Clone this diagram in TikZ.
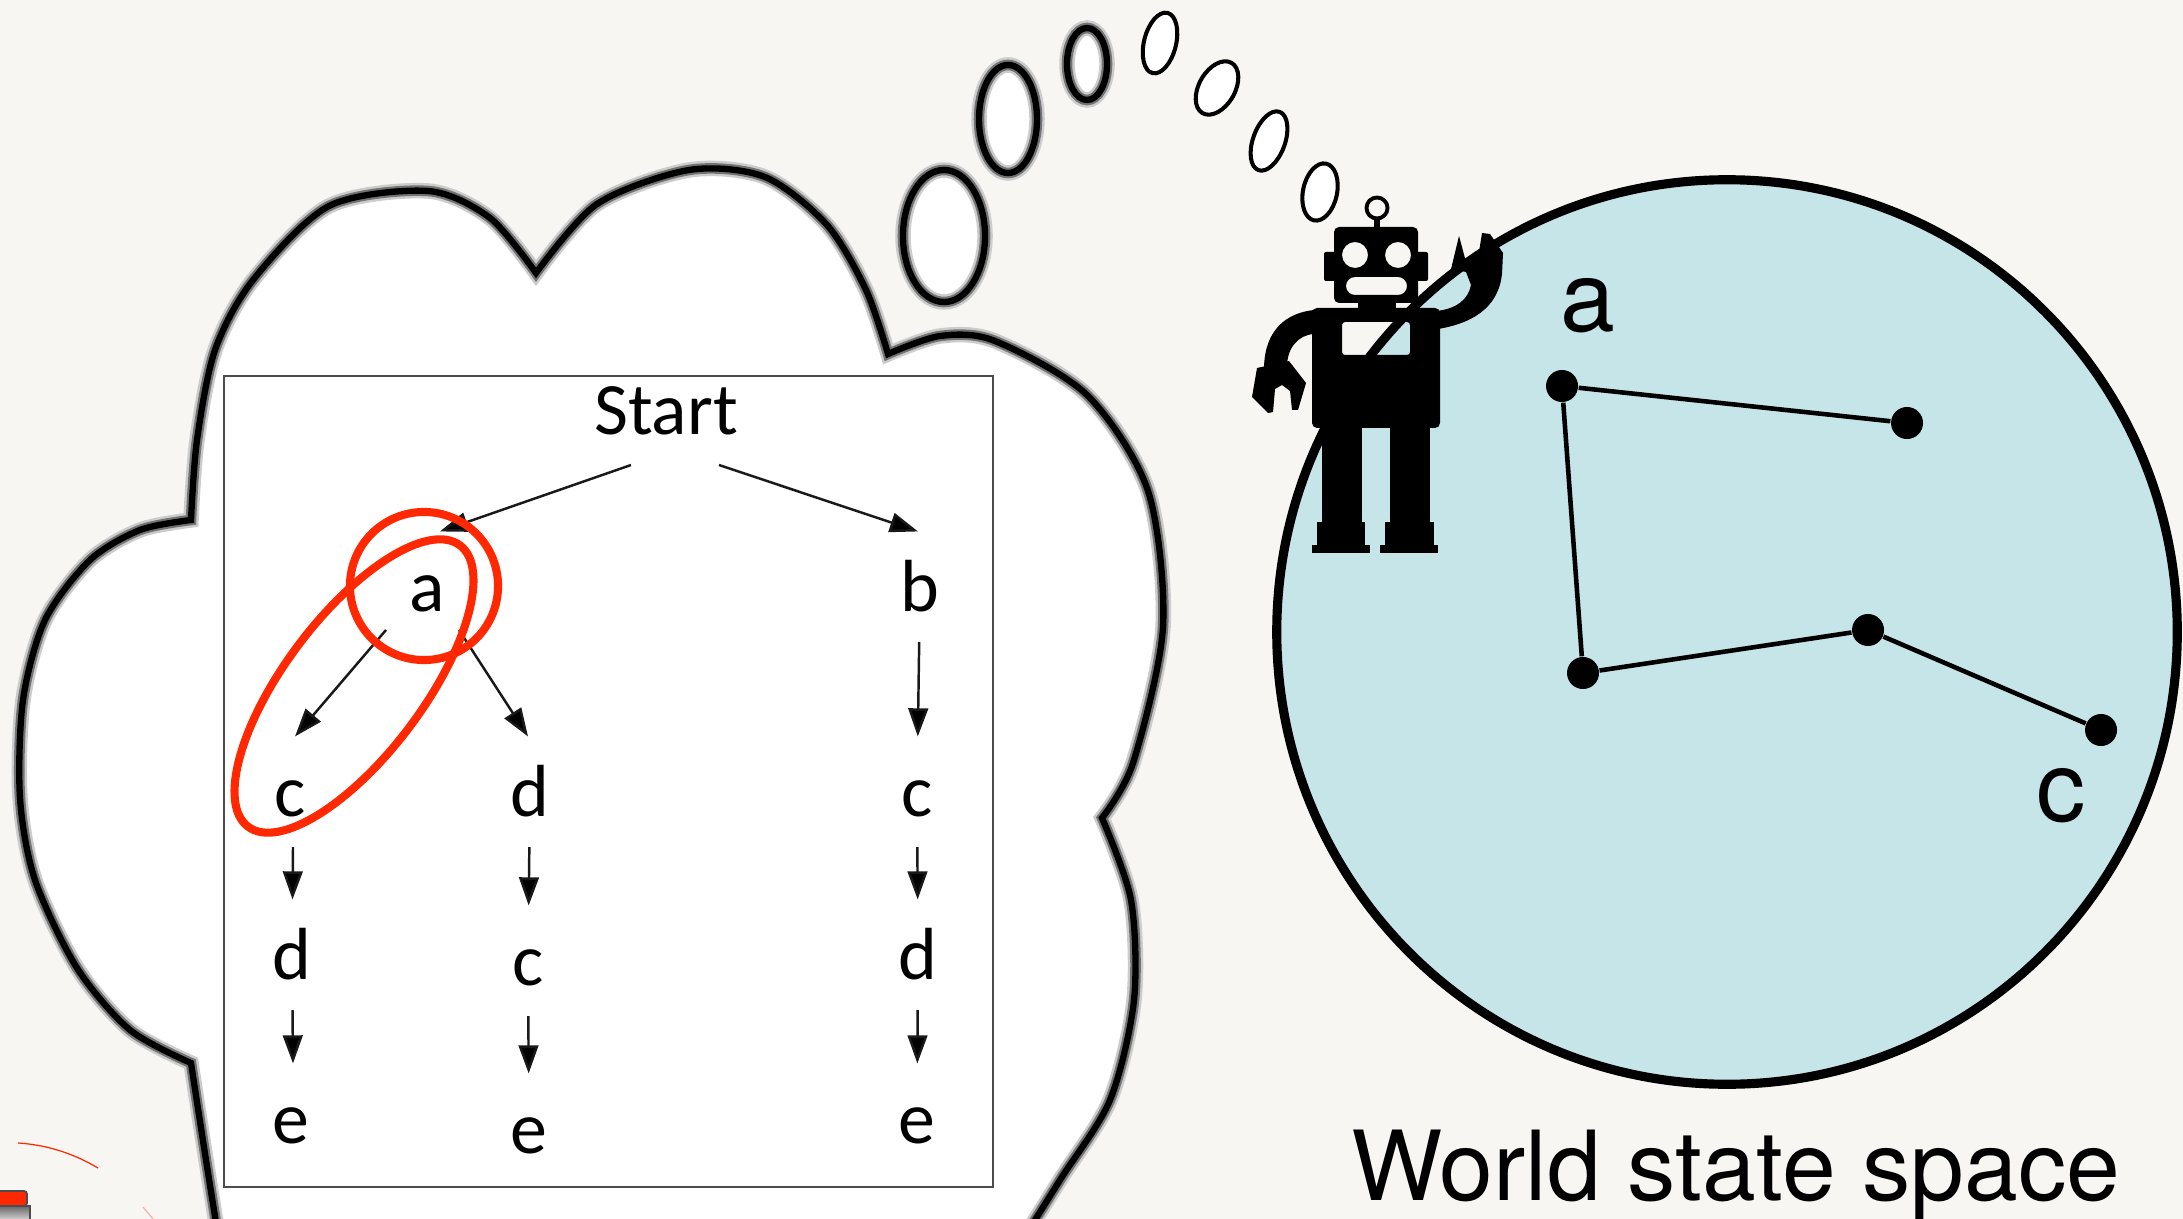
\documentclass[tikz,border=0pt]{standalone}
\usepackage{fontspec}
\setmainfont{TeX Gyre Heros}
\newfontfamily\treefont{Carlito}
\usetikzlibrary{arrows.meta,calc}

\definecolor{paper}{RGB}{248,246,243}
\definecolor{sky}{RGB}{197,229,233}
\definecolor{marker}{RGB}{255,40,0}

\begin{document}
\begin{tikzpicture}[x=0.01cm,y=-0.01cm,
  softline/.style={preaction={fill=white},
                   preaction={draw=black!20,line width=4.4pt},
                   preaction={draw=black!55,line width=3.0pt},
                   draw=black,line width=1.8pt},
  crispbubble/.style={fill=white,draw=black,line width=1.15pt},
  treelbl/.style={font=\treefont\fontsize{21}{25}\selectfont,inner sep=0pt,
                  outer sep=0.31cm,text height=13.8pt,text depth=0pt,anchor=base},
  treearrow/.style={draw=black!90,line width=0.7pt,
                    -{Triangle[length=8pt,width=5.6pt,fill=black]}},
  redmark/.style={draw=marker,line width=2.3pt},
  wdot/.style={circle,fill=black,inner sep=0pt,minimum size=0.32cm},
  wedge/.style={draw=black,line width=1.3pt},
  wlabel/.style={font=\fontsize{28}{32}\selectfont,anchor=base,inner sep=0pt},
]
\useasboundingbox (0,0) rectangle (2183,1219);
\clip (0,0) rectangle (2183,1219);
\fill[paper] (0,0) rectangle (2183,1219);

% ---------- thought cloud ----------
\path[softline]
  plot[smooth] coordinates {(222,1260) (206,1160) (191,1063)}
  -- plot[smooth] coordinates {(191,1063) (130,1030) (77,968) (35,880) (20,798)
        (23,700) (45,620) (90,560) (140,530) (191,520)}
  -- plot[smooth] coordinates {(191,520) (197,440) (215,350) (253,280) (329,206)
        (428,191) (490,218) (536,273)}
  -- plot[smooth] coordinates {(536,273) (597,204) (689,170) (765,177) (827,225)
        (866,290) (888,354)}
  -- plot[smooth] coordinates {(888,354) (940,336) (995,341) (1087,395) (1148,491)
        (1163,627) (1133,763) (1102,818)}
  -- plot[smooth] coordinates {(1102,818) (1131,900) (1134,1000) (1110,1100)
        (1060,1180) (1010,1260)}
  -- cycle;

% bubbles rising from the robot
\path[softline] (944,236) ellipse[x radius=0.41cm,y radius=0.66cm];
\path[softline] (1008,119) ellipse[x radius=0.29cm,y radius=0.54cm];
\path[softline] (1087,64) ellipse[x radius=0.20cm,y radius=0.36cm];
\path[crispbubble,rotate around={-14:(1160,43)}] (1160,43)
  ellipse[x radius=0.16cm,y radius=0.31cm];
\path[crispbubble,rotate around={-30:(1217,88)}] (1217,88)
  ellipse[x radius=0.18cm,y radius=0.29cm];
\path[crispbubble,rotate around={-20:(1269,141)}] (1269,141)
  ellipse[x radius=0.16cm,y radius=0.31cm];
\path[crispbubble,rotate around={-12:(1320,192)}] (1320,192)
  ellipse[x radius=0.17cm,y radius=0.29cm];

% ---------- search tree panel ----------
\draw[fill=white,draw=black!70,line width=0.7pt] (224,376) rectangle (993,1187);

\node[treelbl,text height=12.5pt] (start) at (666,435) {Start};
\node[treelbl] (a)  at (427,611) {a};
\node[treelbl] (b)  at (920,611) {b};
\node[treelbl] (c1) at (290,816) {c};
\node[treelbl] (d2) at (530,816) {d};
\node[treelbl] (c3) at (917,816) {c};
\node[treelbl] (d1) at (292,979) {d};
\node[treelbl] (c2) at (528,985) {c};
\node[treelbl] (d3) at (918,979) {d};
\node[treelbl] (e1) at (291,1143) {e};
\node[treelbl] (e2) at (529,1153) {e};
\node[treelbl] (e3) at (917,1143) {e};

\draw[treearrow] ([xshift=-0.35cm,yshift=0.01cm]start.south) -- ([xshift=0.13cm]a.north);
\draw[treearrow] ([xshift=0.53cm,yshift=0.01cm]start.south) -- ([xshift=-0.02cm]b.north);
\draw[treearrow] ([xshift=-0.41cm,yshift=0.12cm]a.south) -- ([xshift=0.05cm]c1.north);
\draw[treearrow] ([xshift=0.32cm,yshift=0.12cm]a.south) -- ([xshift=-0.02cm]d2.north);
\draw[treearrow] (b) -- (c3);
\draw[treearrow] ([xshift=0.03cm]c1.south) -- (d1);
\draw[treearrow] (d2) -- (c2);
\draw[treearrow] (c3) -- (d3);
\draw[treearrow] (d1) -- ([xshift=0.02cm]e1.north);
\draw[treearrow] (c2) -- (e2);
\draw[treearrow] (d3) -- (e3);

% highlighting marks
\draw[redmark] (424,586) circle[radius=0.74cm];
\draw[redmark,rotate around={53:(354,686)}] (354,686)
  ellipse[x radius=1.76cm,y radius=0.69cm];

% ---------- world state space ----------
\draw[fill=sky,draw=black,line width=2.6pt] (1727,632)
  ellipse[x radius=4.50cm,y radius=4.52cm];

\node[wdot] (w1) at (1562,386) {};
\node[wdot] (w2) at (1907,423) {};
\node[wdot] (w3) at (1583,673) {};
\node[wdot] (w4) at (1868,630) {};
\node[wdot] (w5) at (2101,730) {};
\draw[wedge] (w1) -- (w2);
\draw[wedge] (w1) -- (w3);
\draw[wedge] (w3) -- (w4);
\draw[wedge] (w4) -- (w5);

\node[wlabel] (la) at (1588,332) {a};
\node[wlabel] (lc) at (2061,821) {c};
\node[wlabel,font=\fontsize{27.5}{32}\selectfont] (caption) at (1736,1200)
  {World state space};

% ---------- robot ----------
\begin{scope}[black]
  % antenna
  \draw[line width=1.1pt] (1377,208) circle[radius=0.105cm];
  \fill (1374,217) rectangle (1380,229);
  % head with eyes and mouth cut out
  \fill[even odd rule]
    [rounded corners=0.05cm] (1334,227) rectangle (1418,303)
    (1355,255) circle[radius=0.13cm]
    (1398,255) circle[radius=0.13cm]
    [rounded corners=0.09cm] (1346,277) rectangle (1407,295);
  \fill[rounded corners=0.02cm] (1324,252) rectangle (1336,281);
  \fill[rounded corners=0.02cm] (1416,252) rectangle (1428,281);
  % neck
  \fill (1358,300) rectangle (1396,311);
  % body with chest window
  \fill[even odd rule]
    [rounded corners=0.05cm] (1312,308) rectangle (1440,428)
    [rounded corners=0.03cm] (1342,322) rectangle (1410,355);
  % left arm and claw
  \fill (1314,310) .. controls (1286,313) and (1265,330) .. (1264,367)
    -- (1287,367) .. controls (1287,348) and (1298,335) .. (1314,334) -- cycle;
  \fill (1257,368) -- (1289,361) -- (1306,383) -- (1298,410) -- (1292,410)
    -- (1290,391) -- (1282,385) -- (1275,389) -- (1273,412) -- (1268,413)
    -- (1252,397) -- cycle;
  % right arm and hand gripping the boundary
  \fill (1436,311) .. controls (1456,309) and (1468,300) .. (1471,285)
    -- (1466,272) -- (1451,269) -- (1459,236) -- (1466,262) -- (1478,258)
    -- (1482,233) -- (1490,234) -- (1503,253) -- (1502,274)
    .. controls (1499,302) and (1480,322) .. (1438,329) -- cycle;
  % legs and feet
  \fill (1322,420) rectangle (1362,524);
  \fill (1390,420) rectangle (1430,524);
  \fill (1317,522) rectangle (1365,546);
  \fill (1312,545) rectangle (1370,553);
  \fill (1385,522) rectangle (1434,546);
  \fill (1380,545) rectangle (1438,553);
\end{scope}

% ---------- pointer remnants, lower left ----------
\draw[marker,line width=0.35pt] (18,1143) .. controls (50,1145) and (76,1155) .. (98,1168);
\draw[marker!40,line width=0.3pt] (143,1207) -- (153,1219);
\draw[fill=marker,draw=black!70,line width=0.5pt,rounded corners=0.03cm]
  (-5,1191) rectangle (27,1206);
\shade[top color=black!60,bottom color=white,draw=black!70,line width=0.5pt]
  (-5,1206) rectangle (30,1225);
\end{tikzpicture}
\end{document}
